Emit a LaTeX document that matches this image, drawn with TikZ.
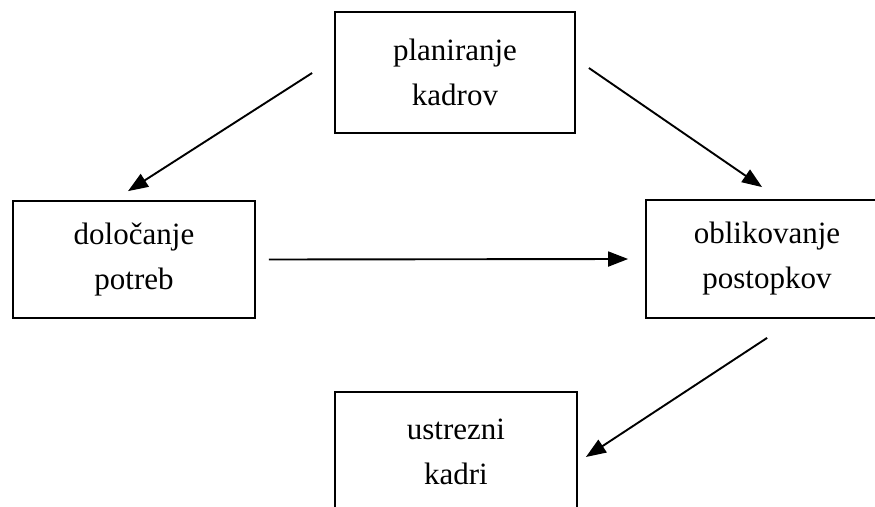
\documentclass[tikz,border=0pt]{standalone}
\usepackage{fontspec}
\setmainfont{Liberation Serif}
\usetikzlibrary{arrows.meta,calc}
\begin{document}
\begin{tikzpicture}[x=1pt,y=-1pt,
  box/.style={draw=black,line width=1.8pt,rectangle,inner sep=0pt,
    align=center,font=\fontsize{31}{45}\selectfont},
  arr/.style={line width=1.9pt,-{Triangle[length=20pt,width=15pt]}}]
  \useasboundingbox (0,0) rectangle (875,506);
  % boxes
  \node[box,minimum width=240pt,minimum height=121pt] (plan) at (455,72.5) {planiranje\\kadrov};
  \node[box,minimum width=242pt,minimum height=117pt] (potr) at (134,259.5) {določanje\\potreb};
  % this frame runs on past the right edge of the page
  \node[box,minimum height=118pt,align=none] (post) at (797,259)
    {\parbox[c]{242pt}{\centering oblikovanje\\postopkov}\hspace*{60pt}};
  \node[box,minimum width=242pt,minimum height=120pt] (kadr) at (456,452) {ustrezni\\kadri};
  % connectors
  \draw[arr] ($(plan.west)+(-22,0.5)$) -- ($(potr.north)+(-6,-9)$);
  \draw[arr] ($(plan.east)+(13,-4.5)$) -- ($(post.north west)+(117,-12)$);
  \draw[arr] ($(potr.east)+(13,0)$) -- ($(post.west)+(-17,0)$);
  \draw[arr] ($(post.south west)+(122,19)$) -- ($(kadr.east)+(8,5)$);
\end{tikzpicture}
\end{document}
